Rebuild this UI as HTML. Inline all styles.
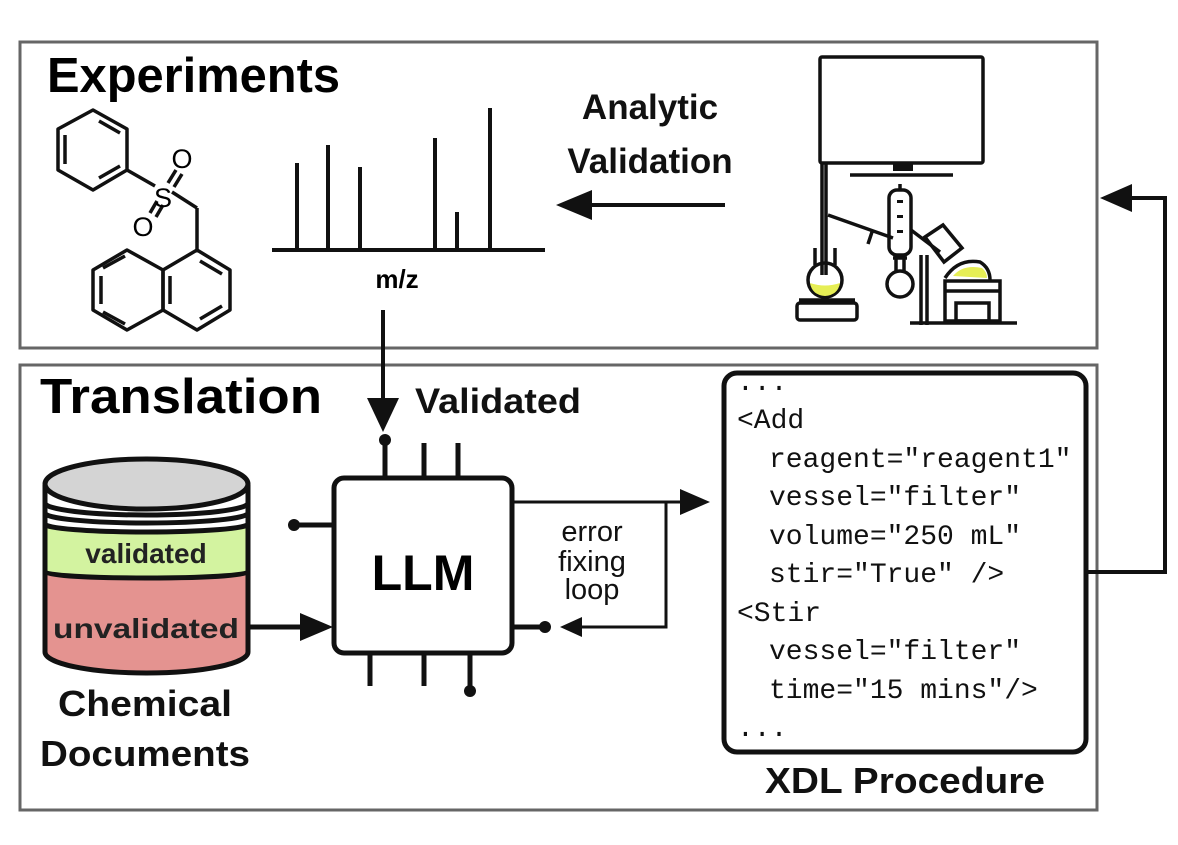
<!DOCTYPE html>
<html><head><meta charset="utf-8"><style>html,body{margin:0;padding:0;background:#fff}svg{display:block}</style></head>
<body>
<svg width="1178" height="845" viewBox="0 0 1178 845" xmlns="http://www.w3.org/2000/svg" font-family="Liberation Sans, Arial, sans-serif">
<rect width="1178" height="845" fill="#fff"/>
<!-- panels -->
<rect x="20" y="42" width="1077" height="306" fill="none" stroke="#666" stroke-width="3"/>
<rect x="20" y="365" width="1077" height="445" fill="none" stroke="#666" stroke-width="3"/>
<text x="47" y="92" font-size="49" font-weight="bold" textLength="293" lengthAdjust="spacingAndGlyphs">Experiments</text>
<text x="40" y="413" font-size="49" font-weight="bold" textLength="282" lengthAdjust="spacingAndGlyphs">Translation</text>

<!-- molecule -->
<g fill="none" stroke="#111" stroke-width="3.5" stroke-linejoin="round">
<polygon points="93,110 127,129 127,170 93,190 58,170 58,129"/>
<line x1="99" y1="121" x2="120" y2="133"/><line x1="120" y1="166" x2="99" y2="178"/><line x1="65" y1="135" x2="65" y2="164"/>
<line x1="127" y1="170" x2="155" y2="186"/>
<line x1="172" y1="192" x2="197" y2="208"/><line x1="197" y1="208" x2="197" y2="250"/>
<line x1="168" y1="183" x2="176" y2="170"/><line x1="174" y1="187" x2="182" y2="174"/>
<line x1="150" y1="213" x2="157" y2="201"/><line x1="156" y1="217" x2="163" y2="205"/>
<polygon points="197,250 230,270 230,310 197,330 163,310 163,270"/>
<polygon points="163,270 127,250 93,270 93,310 127,330 163,310"/>
<line x1="200" y1="261" x2="222" y2="274"/><line x1="222" y1="306" x2="200" y2="319"/><line x1="170" y1="276" x2="170" y2="304"/>
<line x1="101" y1="276" x2="101" y2="304"/><line x1="103" y1="268" x2="125" y2="256"/><line x1="103" y1="312" x2="125" y2="324"/>
</g>
<text x="163" y="207" font-size="27" text-anchor="middle">S</text>
<text x="182" y="168" font-size="27" text-anchor="middle">O</text>
<text x="143" y="236" font-size="27" text-anchor="middle">O</text>

<!-- mass spec -->
<g stroke="#111" stroke-width="4">
<line x1="272" y1="250" x2="545" y2="250"/>
<line x1="297" y1="163" x2="297" y2="250"/><line x1="328" y1="145" x2="328" y2="250"/><line x1="360" y1="167" x2="360" y2="250"/>
<line x1="435" y1="138" x2="435" y2="250"/><line x1="457" y1="212" x2="457" y2="250"/><line x1="490" y1="108" x2="490" y2="250"/>
</g>
<text x="397" y="288" font-size="26" font-weight="bold" text-anchor="middle">m/z</text>

<!-- analytic validation -->
<text x="650" y="119" font-size="35" font-weight="bold" text-anchor="middle" fill="#111">Analytic</text>
<text x="650" y="173" font-size="35" font-weight="bold" text-anchor="middle" fill="#111">Validation</text>
<line x1="725" y1="205" x2="580" y2="205" stroke="#111" stroke-width="4"/>
<polygon points="556,205 592,190 592,220" fill="#111"/>

<!-- apparatus -->
<g fill="none" stroke="#111" stroke-width="3.5">
<rect x="820" y="57" width="163" height="106" rx="2"/>
<line x1="850" y1="175" x2="953" y2="175"/>
<line x1="822" y1="163" x2="822" y2="275"/><line x1="826" y1="163" x2="826" y2="275"/>
<line x1="828" y1="215" x2="893" y2="238"/>
<line x1="872" y1="232" x2="868" y2="244"/>
<rect x="889" y="190" width="22" height="65" rx="8"/>
<line x1="900" y1="184" x2="900" y2="190"/>
<circle cx="900" cy="284" r="13"/>
<line x1="896" y1="258" x2="896" y2="272"/><line x1="904" y1="258" x2="904" y2="272"/>
<line x1="893" y1="258" x2="907" y2="258"/>
<line x1="911" y1="230" x2="940" y2="252"/>
<line x1="921" y1="255" x2="921" y2="325"/><line x1="927" y1="255" x2="927" y2="325"/>
<polygon points="925,237 943,225 962,248 944,262"/>
<path d="M945,278 Q958,258 980,262 Q990,268 990,280"/>
<rect x="945" y="281" width="55" height="40"/>
<line x1="945" y1="291" x2="1000" y2="291"/>
<rect x="956" y="303" width="33" height="18"/>
<line x1="910" y1="323" x2="1017" y2="323"/>
<rect x="797" y="303" width="60" height="17" rx="3"/>
<line x1="799" y1="300" x2="855" y2="300"/>
<line x1="815" y1="248" x2="815" y2="265"/><line x1="835" y1="248" x2="835" y2="265"/>
<circle cx="825" cy="280" r="17"/>
</g>
<path d="M810,283 Q825,288 840,283 Q838,295 825,296 Q812,295 810,283Z" fill="#e6ee55"/>
<path d="M953,276 Q963,264 982,268 Q987,272 987,278Z" fill="#e6ee55"/>
<g fill="#111"><rect x="893" y="163" width="20" height="8"/><rect x="897" y="200" width="6" height="3"/><rect x="897" y="215" width="6" height="3"/><rect x="897" y="230" width="6" height="3"/></g>

<!-- validated arrow -->
<line x1="383" y1="310" x2="383" y2="405" stroke="#111" stroke-width="4"/>
<polygon points="367,398 399,398 383,432" fill="#111"/>
<text x="415" y="413" font-size="35" font-weight="bold" fill="#111" textLength="166" lengthAdjust="spacingAndGlyphs">Validated</text>

<!-- LLM chip -->
<g stroke="#111" stroke-width="5" fill="none">
<rect x="334" y="478" width="178" height="175" rx="10"/>
<line x1="385" y1="440" x2="385" y2="478"/><line x1="424" y1="443" x2="424" y2="478"/><line x1="458" y1="443" x2="458" y2="478"/>
<line x1="370" y1="653" x2="370" y2="686"/><line x1="424" y1="653" x2="424" y2="686"/><line x1="470" y1="653" x2="470" y2="690"/>
<line x1="294" y1="525" x2="334" y2="525"/>
<line x1="512" y1="627" x2="545" y2="627"/>
<line x1="250" y1="627" x2="306" y2="627"/>
</g>
<g fill="#111"><circle cx="385" cy="440" r="6"/><circle cx="470" cy="691" r="6"/><circle cx="294" cy="525" r="6"/><circle cx="545" cy="627" r="6"/>
<polygon points="300,613 300,641 333,627"/></g>
<text x="423" y="590" font-size="50" font-weight="bold" text-anchor="middle">LLM</text>
<g stroke="#111" stroke-width="3" fill="none">
<line x1="512" y1="502" x2="685" y2="502"/>
<polyline points="666,502 666,627 578,627"/>
</g>
<polygon points="710,502 680,489 680,515" fill="#111"/><polygon points="560,627 582,617 582,637" fill="#111"/>
<g font-size="29" text-anchor="middle" fill="#111"><text x="592" y="541">error</text><text x="592" y="571">fixing</text><text x="592" y="599">loop</text></g>

<!-- cylinder -->
<path d="M45,485 L45,652 A101.5,21 0 0 0 248,652 L248,485Z" fill="#e49390"/>
<path d="M45,524 A101.5,8 0 0 0 248,524 L248,572 A101.5,6 0 0 1 45,572Z" fill="#d3f3a0"/>
<path d="M45,485 L45,524 A101.5,8 0 0 0 248,524 L248,485Z" fill="#fff"/>
<g fill="none" stroke="#111" stroke-width="5">
<path d="M45,485 L45,652 A101.5,21 0 0 0 248,652 L248,485"/>
<path d="M45,503 A101.5,12 0 0 0 248,503"/>
<path d="M45,513 A101.5,10 0 0 0 248,513"/>
<path d="M45,524 A101.5,8 0 0 0 248,524"/>
<path d="M45,572 A101.5,6 0 0 0 248,572"/>
</g>
<ellipse cx="146.5" cy="484" rx="101.5" ry="25" fill="#d4d4d4" stroke="#111" stroke-width="5"/>
<text x="146" y="563" font-size="28" font-weight="bold" text-anchor="middle" fill="#222">validated</text>
<text x="146" y="638" font-size="28" font-weight="bold" text-anchor="middle" fill="#222" textLength="186" lengthAdjust="spacingAndGlyphs">unvalidated</text>
<text x="145" y="716" font-size="36" font-weight="bold" text-anchor="middle" fill="#111" textLength="174" lengthAdjust="spacingAndGlyphs">Chemical</text>
<text x="145" y="766" font-size="36" font-weight="bold" text-anchor="middle" fill="#111" textLength="210" lengthAdjust="spacingAndGlyphs">Documents</text>

<!-- XDL -->
<rect x="724" y="373" width="362" height="379" rx="13" fill="#fff" stroke="#111" stroke-width="5"/>
<g font-family="Liberation Mono, DejaVu Sans Mono, monospace" font-size="28" fill="#111">
<text x="737" y="390">...</text>
<text x="737" y="428">&lt;Add</text>
<text x="769" y="467">reagent="reagent1"</text>
<text x="769" y="505">vessel="filter"</text>
<text x="769" y="544">volume="250 mL"</text>
<text x="769" y="582">stir="True" /&gt;</text>
<text x="737" y="621">&lt;Stir</text>
<text x="769" y="659">vessel="filter"</text>
<text x="769" y="698">time="15 mins"/&gt;</text>
<text x="737" y="736">...</text>
</g>
<text x="905" y="793" font-size="36" font-weight="bold" text-anchor="middle" fill="#111" textLength="280" lengthAdjust="spacingAndGlyphs">XDL Procedure</text>
<polyline points="1088,572 1165,572 1165,198 1120,198" fill="none" stroke="#111" stroke-width="4"/>
<polygon points="1100,198 1132,184 1132,212" fill="#111"/>
</svg>
</body></html>
